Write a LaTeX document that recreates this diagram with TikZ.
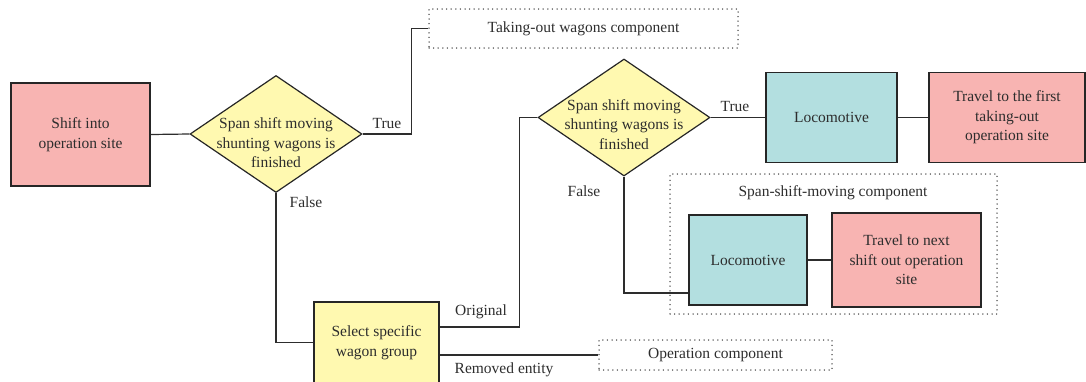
\documentclass[tikz,border=0pt]{standalone}
\usepackage{fontspec}
\setmainfont{Liberation Serif}
\usetikzlibrary{shapes.geometric}
\definecolor{sitepink}{RGB}{248,180,178}
\definecolor{locoteal}{RGB}{179,223,224}
\definecolor{decyellow}{RGB}{255,249,176}
\definecolor{inkgray}{RGB}{45,45,45}
\definecolor{dotgray}{RGB}{60,60,60}
\tikzset{
  every node/.style={font=\rmfamily\fontsize{15.5}{19.5}\selectfont, text=inkgray},
  procbox/.style={rectangle, draw=black!85, line width=1.4pt, align=center, inner sep=0pt},
  sitebox/.style={procbox, fill=sitepink},
  locobox/.style={procbox, fill=locoteal},
  selbox/.style={procbox, fill=decyellow},
  decision/.style={diamond, draw=black!85, line width=1.2pt, fill=decyellow, inner sep=0pt},
  compbox/.style={rectangle, draw=dotgray, line width=1.5pt, line cap=round,
    dash pattern=on 0pt off 4.6pt, align=center, inner sep=0pt},
  link/.style={draw=inkgray, line width=1.2pt},
  lbl/.style={inner sep=0pt}
}
\begin{document}
\begin{tikzpicture}[x=1pt,y=-1pt]
\useasboundingbox (0,0) rectangle (1086,381);

% left part: entry and first decision
\node[sitebox, minimum width=139pt, minimum height=103pt] (shift) at (80.5,134.5) {Shift into\\operation site};
\node[decision, minimum width=172pt, minimum height=117pt] (d1) at (276,134) {};
\node[align=center, inner sep=0pt] (d1t) at (276,143) {Span shift moving\\shunting wagons is\\finished};

\node[compbox, minimum width=309pt, minimum height=39pt] (take) at (583.5,28.5) {Taking-out wagons component};

\node[selbox, minimum width=125pt, minimum height=81pt] (sel) at (376.5,342.5) {Select specific\\wagon group};
\node[compbox, minimum width=233pt, minimum height=30pt] (oper) at (715.5,355) {Operation component};

% right part: second decision and locomotive actions
\node[decision, minimum width=172pt, minimum height=117pt] (d2) at (624,117.5) {};
\node[align=center, inner sep=0pt] (d2t) at (624,124.5) {Span shift moving\\shunting wagons is\\finished};

\node[locobox, minimum width=131pt, minimum height=90pt] (loco1) at (831.5,117.5) {Locomotive};
\node[sitebox, minimum width=156pt, minimum height=90pt] (trav1) at (1007,117.5) {Travel to the first\\taking-out\\operation site};

\node[compbox, minimum width=327pt, minimum height=140pt] (span) at (833.5,244) {};
\node[lbl] (spant) at (833,193) {Span-shift-moving component};
\node[locobox, minimum width=118pt, minimum height=90pt] (loco2) at (748,260) {Locomotive};
\node[sitebox, minimum width=149pt, minimum height=94pt] (trav2) at (906.5,260) {Travel to next\\shift out operation\\site};

% connectors
\draw[link] (shift.east) -- (d1.west);
\draw[link] (d1.east) -- ++(49,0) |- (take.west);
\draw[link] (d1.south) |- (sel.west);
\draw[link] ([yshift=15.5pt]sel.east) -- ++(80,0) |- (d2.west);
\draw[link] ([yshift=-12.5pt]sel.east) -- (oper.west);
\draw[link] (d2.east) -- (loco1.west);
\draw[link] (loco1.east) -- (trav1.west);
\draw[link] (d2.south) |- ([yshift=-33pt]loco2.west);
\draw[link] (loco2.east) -- (trav2.west);

% branch labels
\node[lbl] (t1) at (387,123) {True};
\node[lbl] (f1) at (306,202) {False};
\node[lbl] (orig) at (481,312) {Original};
\node[lbl] (remv) at (504,370) {Removed entity};
\node[lbl] (t2) at (735,106) {True};
\node[lbl] (f2) at (584,191) {False};
\end{tikzpicture}
\end{document}
